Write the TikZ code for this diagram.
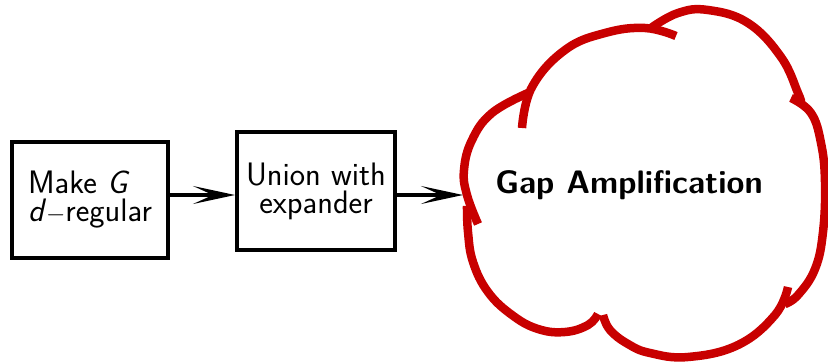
\documentclass[tikz,border=0pt]{standalone}
\usepackage{fontspec}
\usetikzlibrary{arrows.meta}
\definecolor{cloudred}{RGB}{200,0,0}

\begin{document}
\begin{tikzpicture}[x=1pt, y=-1pt,
  stepbox/.style={draw=black, line width=4pt, minimum width=156pt, minimum height=116pt, inner sep=0pt, align=left, font=\fontsize{32.5}{28}\selectfont\sffamily},
  feed/.style={color=black, line width=3.5pt, -{Stealth[length=42pt, width=18pt, inset=20pt]}},
  puff/.style={color=cloudred, line width=8.5pt}]
  \useasboundingbox (0,0) rectangle (828,364);
  \node[stepbox] (regular) at (90,200) {Make \textit{G}\\\textit{d}$-$regular};
  \node[stepbox, minimum width=158pt, minimum height=118pt, align=center] (union) at (316,191) {Union with\\expander};
  \coordinate (cloudin) at (463,195);
  % cloud outline, one arc per puff
  \draw[puff] plot[smooth, tension=0.7] coordinates {(478,224) (467,195) (464,170) (472,140) (492,113) (528,93)};
  \draw[puff] plot[smooth, tension=0.7] coordinates {(522,128) (532,87) (565,50) (605,33) (645,28) (676,36)};
  \draw[puff] plot[smooth, tension=0.7] coordinates {(651,28) (678,13) (708,10) (748,23) (781,57) (798,93) (801,102)};
  \draw[puff] plot[smooth, tension=0.7] coordinates {(791,98) (811,113) (821,143) (825,182) (823,232) (815,269) (798,295) (785,304)};
  \draw[puff] plot[smooth, tension=0.7] coordinates {(788,287) (775,315) (738,345) (688,357) (650,353) (628,344) (610,330) (603,315)};
  \draw[puff] plot[smooth, tension=0.7] coordinates {(598,314) (588,325) (565,332) (538,329) (512,315) (488,292) (473,262) (468,232) (467,206)};
  \node[font=\fontsize{32.5}{28}\selectfont\sffamily\bfseries, anchor=base] (gap) at (629,193) {Gap Amplification};
  \draw[feed] ([yshift=5pt]regular.east) -- ([yshift=-4pt]union.west);
  \draw[feed] ([yshift=-4pt]union.east) -- (cloudin);
\end{tikzpicture}
\end{document}
